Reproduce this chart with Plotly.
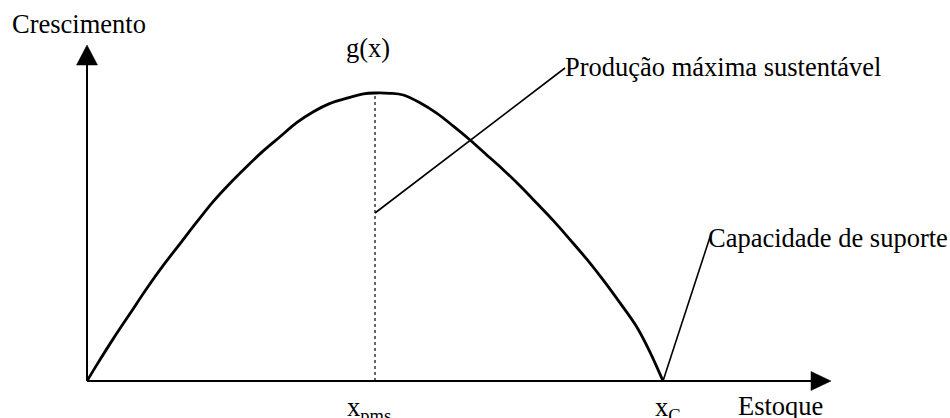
import plotly.graph_objects as go

# ---- data (stock as fraction of carrying capacity, growth relative to max) ----
stock = [0.0, 0.017, 0.046, 0.075, 0.104, 0.133, 0.162, 0.191, 0.219, 0.248,
         0.277, 0.306, 0.335, 0.364, 0.393, 0.422, 0.451, 0.480, 0.5,
         0.526, 0.549, 0.578, 0.607, 0.636, 0.665, 0.694, 0.723, 0.752,
         0.781, 0.810, 0.839, 0.868, 0.896, 0.925, 0.954, 0.977, 1.0]
growth = [0.0, 0.056, 0.148, 0.235, 0.322, 0.403, 0.478, 0.553, 0.623, 0.686,
          0.744, 0.799, 0.848, 0.897, 0.935, 0.964, 0.982, 0.997, 1.0,
          0.999, 0.993, 0.966, 0.930, 0.885, 0.837, 0.785, 0.733, 0.677,
          0.617, 0.556, 0.490, 0.422, 0.351, 0.272, 0.189, 0.102, 0.0]
x_pms = 0.5          # stock at maximum sustainable yield
g_max = 1.0          # maximum growth
x_c = 1.0            # carrying capacity
tick_labels = ["x<sub>pms</sub>", "x<sub>C</sub>"]
axis_titles = ["Estoque", "Crescimento"]
curve_label = "g(x)"
callouts = ["Produção máxima sustentável", "Capacidade de suporte"]

# ---- pixel helpers for layout (950x418 canvas, origin at px (87,381)) ----
W, H = 950, 418
OX, OY = 87, 381
SX, SY = 576, 288
def X(px):
    return (px - OX) / SX
def Y(py):
    return (OY - py) / SY

FONT = dict(family="Liberation Serif, Times New Roman, serif", size=26.5, color="black")
BLACK = "black"

fig = go.Figure()

fig.add_trace(go.Scatter(x=stock, y=growth, mode="lines",
                         line=dict(color=BLACK, width=2.8, shape="spline", smoothing=1.0),
                         hoverinfo="skip", showlegend=False))

shapes = []
# axes
shapes.append(dict(type="line", x0=0, y0=0, x1=X(812), y1=0, line=dict(color=BLACK, width=2)))
shapes.append(dict(type="line", x0=0, y0=0, x1=0, y1=Y(64), line=dict(color=BLACK, width=2)))
# arrowheads
shapes.append(dict(type="path",
                   path=f"M {X(831)} 0 L {X(811)} {Y(381-9.5)} L {X(811)} {Y(381+9.5)} Z",
                   fillcolor=BLACK, line=dict(color=BLACK, width=0.5)))
shapes.append(dict(type="path",
                   path=f"M 0 {Y(45)} L {X(87-10.5)} {Y(65)} L {X(87+10.5)} {Y(65)} Z",
                   fillcolor=BLACK, line=dict(color=BLACK, width=0.5)))
# dotted line at x_pms
shapes.append(dict(type="line", x0=x_pms, y0=0, x1=x_pms, y1=g_max,
                   line=dict(color=BLACK, width=1.2, dash="dot")))
# callout lines
shapes.append(dict(type="line", x0=x_pms, y0=Y(213), x1=X(565), y1=Y(68),
                   line=dict(color=BLACK, width=1.6)))
shapes.append(dict(type="line", x0=x_c, y0=0, x1=X(710), y1=Y(237),
                   line=dict(color=BLACK, width=1.6)))

ann = []
def text(t, px, py, xanchor="left"):
    ann.append(dict(text=t, x=X(px), y=Y(py), xref="x", yref="y", showarrow=False,
                    xanchor=xanchor, yanchor="middle", font=FONT))

text(axis_titles[1], 10, 24)
text(curve_label, 368, 48, "center")
text(callouts[0], 563, 67)
text(callouts[1], 706, 238)
text(tick_labels[0], 345, 409)
text(tick_labels[1], 653, 409)
text(axis_titles[0], 736, 406)

fig.update_layout(
    width=W, height=H,
    margin=dict(l=0, r=0, t=0, b=0),
    paper_bgcolor="white", plot_bgcolor="white",
    xaxis=dict(range=[X(0), X(W)], visible=False, fixedrange=True),
    yaxis=dict(range=[Y(H), Y(0)], visible=False, fixedrange=True),
    shapes=shapes, annotations=ann, showlegend=False,
)

fig.write_html("out.html", config={"displayModeBar": False},
               post_script="document.body.style.margin='0';document.body.style.overflow='hidden';")
